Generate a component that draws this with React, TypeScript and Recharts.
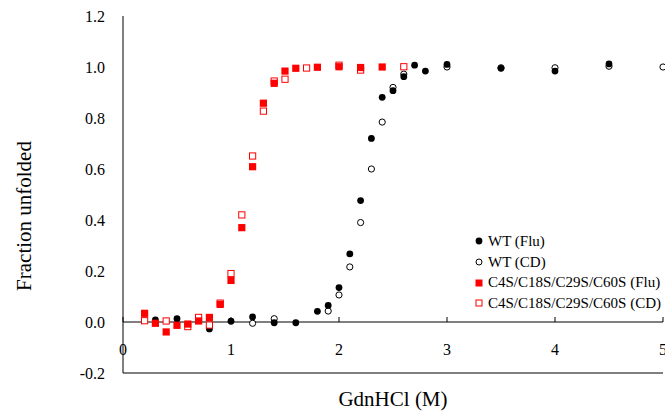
import React from 'react';
import { ScatterChart, Scatter, XAxis, YAxis, ReferenceLine, Legend } from 'recharts';

// ---- data ----
const xTicks = [0, 1, 2, 3, 4, 5];
const yTicks = [-0.2, 0, 0.2, 0.4, 0.6, 0.8, 1.0, 1.2];
const seriesNames = ['WT (Flu)', 'WT (CD)', 'C4S/C18S/C29S/C60S (Flu)', 'C4S/C18S/C29S/C60S (CD)'];

const wtFlu = [
  { x: 0.3, y: 0.008 }, { x: 0.5, y: 0.013 }, { x: 0.8, y: -0.027 }, { x: 1.0, y: 0.003 },
  { x: 1.2, y: 0.02 }, { x: 1.4, y: -0.003 }, { x: 1.6, y: -0.003 }, { x: 1.8, y: 0.042 },
  { x: 1.9, y: 0.065 }, { x: 2.0, y: 0.135 }, { x: 2.1, y: 0.267 }, { x: 2.2, y: 0.476 },
  { x: 2.3, y: 0.72 }, { x: 2.4, y: 0.881 }, { x: 2.5, y: 0.907 }, { x: 2.6, y: 0.962 },
  { x: 2.7, y: 1.007 }, { x: 2.8, y: 0.984 }, { x: 3.0, y: 1.01 }, { x: 3.5, y: 0.995 },
  { x: 4.0, y: 0.984 }, { x: 4.5, y: 1.012 },
];

const wtCD = [
  { x: 1.2, y: -0.005 }, { x: 1.4, y: 0.013 }, { x: 1.9, y: 0.043 }, { x: 2.0, y: 0.106 },
  { x: 2.1, y: 0.216 }, { x: 2.2, y: 0.39 }, { x: 2.3, y: 0.6 }, { x: 2.4, y: 0.784 },
  { x: 2.5, y: 0.92 }, { x: 2.6, y: 0.972 }, { x: 3.0, y: 1.0 }, { x: 3.5, y: 0.997 },
  { x: 4.0, y: 0.997 }, { x: 4.5, y: 1.003 }, { x: 5.0, y: 1.0 },
];

const mutFlu = [
  { x: 0.2, y: 0.034 }, { x: 0.3, y: -0.005 }, { x: 0.4, y: -0.039 }, { x: 0.5, y: -0.013 },
  { x: 0.6, y: -0.008 }, { x: 0.7, y: 0.004 }, { x: 0.8, y: 0.018 }, { x: 0.9, y: 0.069 },
  { x: 1.0, y: 0.163 }, { x: 1.1, y: 0.37 }, { x: 1.2, y: 0.609 }, { x: 1.3, y: 0.858 },
  { x: 1.4, y: 0.936 }, { x: 1.5, y: 0.984 }, { x: 1.6, y: 0.995 }, { x: 1.8, y: 0.999 },
  { x: 2.0, y: 1.001 }, { x: 2.2, y: 0.998 }, { x: 2.4, y: 1.0 },
];

const mutCD = [
  { x: 0.2, y: 0.005 }, { x: 0.4, y: 0.004 }, { x: 0.6, y: -0.018 }, { x: 0.7, y: 0.018 },
  { x: 0.8, y: -0.012 }, { x: 0.9, y: 0.074 }, { x: 1.0, y: 0.19 }, { x: 1.1, y: 0.42 },
  { x: 1.2, y: 0.651 }, { x: 1.3, y: 0.827 }, { x: 1.4, y: 0.945 }, { x: 1.5, y: 0.952 },
  { x: 1.7, y: 0.996 }, { x: 2.0, y: 1.007 }, { x: 2.2, y: 0.988 }, { x: 2.6, y: 1.001 },
];

// ---- layout / style ----
const W = 665;
const H = 412;
const MARGIN = { top: 16, right: 2, left: 0, bottom: 0 };
const Y_AXIS_W = 123;
const X_AXIS_H = 39;
const X_DOMAIN: [number, number] = [0, 5];
const Y_DOMAIN: [number, number] = [-0.2, 1.2];
const PLOT_H = H - MARGIN.top - MARGIN.bottom - X_AXIS_H;
const ZERO_OFFSET = (PLOT_H * (0 - Y_DOMAIN[0])) / (Y_DOMAIN[1] - Y_DOMAIN[0]);
const FONT = '"Liberation Serif", "Times New Roman", serif';
const RED = '#ff0000';

const FilledCircle = (p: any) => <circle cx={p.cx} cy={p.cy} r={3.4} fill="#000" />;
const OpenCircle = (p: any) => (
  <circle cx={p.cx} cy={p.cy} r={3.1} fill="#fff" stroke="#000" strokeWidth={1} />
);
const FilledSquare = (p: any) => (
  <rect x={p.cx - 3.6} y={p.cy - 3.6} width={7.2} height={7.2} fill={RED} />
);
const OpenSquare = (p: any) => (
  <rect x={p.cx - 3.1} y={p.cy - 3.1} width={6.2} height={6.2} fill="#fff" stroke={RED} strokeWidth={1} />
);

const XTick = (props: any) => {
  const { x, y, payload } = props;
  const y0 = y - ZERO_OFFSET;
  return (
    <g>
      <line x1={x} x2={x} y1={y0} y2={y0 - 5} stroke="#000" strokeWidth={1} />
      <text x={x} y={y0 + 33} textAnchor="middle" fontSize={16} fontFamily={FONT} fill="#000">
        {payload.value}
      </text>
    </g>
  );
};

const legendMarkers = [
  <circle key="a" cx={5} cy={5} r={3.4} fill="#000" />,
  <circle key="b" cx={5} cy={5} r={3} fill="#fff" stroke="#000" strokeWidth={1} />,
  <rect key="c" x={1.5} y={1.5} width={7} height={7} fill={RED} />,
  <rect key="d" x={2} y={2} width={6} height={6} fill="#fff" stroke={RED} strokeWidth={1} />,
];

const LegendContent = () => (
  <div style={{ fontFamily: FONT, fontSize: 15, color: '#000' }}>
    {seriesNames.map((n, i) => (
      <div key={n} style={{ display: 'flex', alignItems: 'center', height: 20.7, whiteSpace: 'nowrap' }}>
        <svg width={10} height={10} style={{ display: 'block' }}>
          {legendMarkers[i]}
        </svg>
        <span style={{ marginLeft: 4 }}>{n}</span>
      </div>
    ))}
  </div>
);

export default function App() {
  return (
    <div style={{ position: 'absolute', left: 0, top: 0, width: W, height: H, background: '#fff' }}>
      <ScatterChart width={W} height={H} margin={MARGIN} style={{ fontFamily: FONT }}>
        <XAxis
          xAxisId={0}
          type="number"
          dataKey="x"
          domain={X_DOMAIN}
          ticks={xTicks}
          interval={0}
          height={X_AXIS_H}
          axisLine={{ stroke: '#000', strokeWidth: 1 }}
          tickLine={false}
          tickSize={0}
          tickMargin={0}
          tick={<XTick />}
          label={{
            content: (p: any) => {
              const vb = p.viewBox;
              return (
                <text
                  x={vb.x + vb.width / 2}
                  y={vb.y + vb.height - 6}
                  textAnchor="middle"
                  fontSize={21}
                  fontFamily={FONT}
                  fill="#000"
                >
                  GdnHCl (M)
                </text>
              );
            },
          }}
        />
        <XAxis
          xAxisId="top"
          orientation="top"
          type="number"
          domain={X_DOMAIN}
          allowDataOverflow
          height={0}
          tick={false}
          tickLine={false}
          axisLine={{ stroke: '#8c8c8c', strokeWidth: 1 }}
        />
        <YAxis
          yAxisId={0}
          type="number"
          dataKey="y"
          domain={Y_DOMAIN}
          ticks={yTicks}
          interval={0}
          width={Y_AXIS_W}
          axisLine={{ stroke: '#000', strokeWidth: 1 }}
          tickLine={false}
          tickSize={0}
          tickMargin={18}
          tickFormatter={(v: number) => v.toFixed(1)}
          tick={{ fontSize: 16, fill: '#000', fontFamily: FONT }}
          label={{
            content: (p: any) => {
              const vb = p.viewBox;
              const cx = vb.x + 31;
              const cy = vb.y + vb.height / 2 + 21.5;
              return (
                <text
                  x={cx}
                  y={cy}
                  transform={`rotate(-90, ${cx}, ${cy})`}
                  textAnchor="middle"
                  fontSize={21}
                  fontFamily={FONT}
                  fill="#000"
                >
                  Fraction unfolded
                </text>
              );
            },
          }}
        />
        <YAxis
          yAxisId="right"
          orientation="right"
          type="number"
          domain={Y_DOMAIN}
          allowDataOverflow
          width={0}
          tick={false}
          tickLine={false}
          axisLine={{ stroke: '#000', strokeWidth: 1 }}
        />
        <ReferenceLine y={0} xAxisId={0} yAxisId={0} stroke="#000" strokeWidth={1} />
        <Scatter name={seriesNames[1]} data={wtCD} xAxisId={0} yAxisId={0} shape={OpenCircle} isAnimationActive={false} />
        <Scatter name={seriesNames[0]} data={wtFlu} xAxisId={0} yAxisId={0} shape={FilledCircle} isAnimationActive={false} />
        <Scatter name={seriesNames[3]} data={mutCD} xAxisId={0} yAxisId={0} shape={OpenSquare} isAnimationActive={false} />
        <Scatter name={seriesNames[2]} data={mutFlu} xAxisId={0} yAxisId={0} shape={FilledSquare} isAnimationActive={false} />
        <Legend
          layout="vertical"
          align="center"
          verticalAlign="middle"
          content={<LegendContent />}
          wrapperStyle={{ left: 474, top: 231, width: 'auto', height: 'auto' }}
        />
      </ScatterChart>
    </div>
  );
}
